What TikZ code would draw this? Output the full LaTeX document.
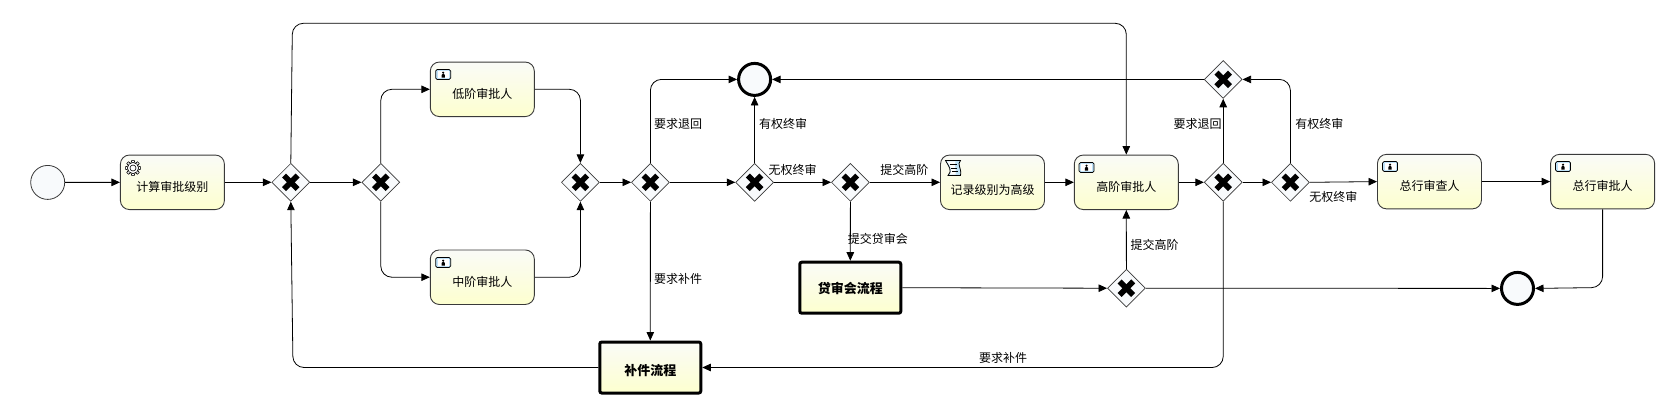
\documentclass[tikz,border=0pt]{standalone}
\usepackage{fontspec}
\setmainfont{Noto Sans CJK SC}
\usetikzlibrary{arrows.meta,shapes.geometric,calc}
\definecolor{tasktop}{HTML}{FAFBF7}
\definecolor{taskbot}{HTML}{FDFFCF}
\definecolor{evfill}{HTML}{F8FAFC}
\definecolor{edgegray}{HTML}{3A3A3A}
\definecolor{iconblue}{HTML}{BFE2F8}
\newcommand{\tasktext}[1]{\raisebox{-9pt}[0pt][0pt]{#1}}
\tikzset{
  task/.style={draw=edgegray,line width=0.9pt,rounded corners=9pt,top color=tasktop,bottom color=taskbot,
    minimum width=104pt,minimum height=54.5pt,inner sep=0pt,font=\fontsize{12}{12}\selectfont},
  subproc/.style={draw=black,line width=3pt,rounded corners=2pt,top color=tasktop,bottom color=taskbot,
    minimum width=101pt,minimum height=51pt,inner sep=0pt,font=\fontsize{13}{13}\selectfont\bfseries},
  gw/.style={diamond,aspect=1,draw=edgegray,line width=0.7pt,fill=evfill,minimum size=38pt,inner sep=0pt,
    path picture={\draw[line width=5.6pt,black] ($(path picture bounding box.center)+(-6.8pt,-6.8pt)$)--($(path picture bounding box.center)+(6.8pt,6.8pt)$);
      \draw[line width=5.6pt,black] ($(path picture bounding box.center)+(-6.8pt,6.8pt)$)--($(path picture bounding box.center)+(6.8pt,-6.8pt)$);}},
  startev/.style={circle,draw=edgegray,line width=0.8pt,fill=evfill,minimum size=34pt,inner sep=0pt},
  endev/.style={circle,draw=black,line width=3pt,fill=evfill,minimum size=32pt,inner sep=0pt},
  flow/.style={draw=black,line width=0.8pt,-{Triangle[length=8.5pt,width=7.5pt]},rounded corners=11pt},
  lab/.style={font=\fontsize{12}{12}\selectfont,inner sep=0pt,text=black},
  usericon/.pic={
    \draw[black,line width=0.7pt,fill=iconblue,rounded corners=1.5pt] (-7.5,-5) rectangle (7.5,5);
    \fill[white] (-5.5,-3.5) rectangle (5.5,3.5);
    \fill[black] (0,-1.8) circle (1.2);
    \fill[black] (-1.7,3.2) -- (-1.7,0.6) -- (-0.8,-0.4) -- (0.8,-0.4) -- (1.7,0.6) -- (1.7,3.2) -- cycle;
  },
  gearicon/.pic={
    \foreach \a in {0,45,...,315}{
      \draw[black,line width=0.6pt,fill=white,rotate=\a] (-1.7,-5.4) -- (-1.2,-7.6) -- (1.2,-7.6) -- (1.7,-5.4);
    }
    \draw[black,line width=0.6pt,fill=white] (0,0) circle (5.6);
    \draw[black,line width=0.6pt,fill=white] (0,0) circle (3);
  },
  scripticon/.pic={
    \draw[black,line width=0.8pt,fill=iconblue] (-7.5,-7.5) -- (7.5,-7.5) .. controls (3.5,-3.5) and (9,0) .. (7.5,7.5) -- (-5,7.5) .. controls (0,3) and (-4.5,-2) .. (-7.5,-7.5) -- cycle;
    \fill[white] (-6,-6.7) -- (2.5,-6.7) .. controls (0.5,-2) and (4,2) .. (2.5,6.7) -- (-3,6.7) .. controls (0,2) and (-3.5,-3) .. (-6,-6.7) -- cycle;
    \draw[black,line width=0.8pt] (-3.5,-3.5) -- (3.5,-3.5) (-2,0) -- (4,0) (-1,3.5) -- (4.5,3.5);
  }
}
\begin{document}
\begin{tikzpicture}[x=1pt,y=-1pt]
\useasboundingbox (0,0) rectangle (1660,400);

% events
\node[startev] (start) at (47.7,182.4) {};
\node[endev] (endA) at (754.6,79.4) {};
\node[endev] (endB) at (1517.5,288.4) {};

% tasks
\node[task] (calc) at (172.4,182.3) {\tasktext{计算审批级别}};
\node[task] (low) at (482.3,89.3) {\tasktext{低阶审批人}};
\node[task] (mid) at (482.3,277.2) {\tasktext{中阶审批人}};
\node[task] (rec) at (992.5,182.3) {\raisebox{-12.5pt}[0pt][0pt]{记录级别为高级}};
\node[task] (high) at (1126.3,182.3) {\tasktext{高阶审批人}};
\node[task] (rev) at (1429.5,181.6) {\tasktext{总行审查人}};
\node[task] (appr) at (1602.6,181.6) {\tasktext{总行审批人}};

% sub-processes
\node[subproc] (dai) at (850.3,287.7) {\raisebox{-6pt}[0pt][0pt]{贷审会流程}};
\node[subproc] (bu) at (650.3,367.5) {\raisebox{-7.5pt}[0pt][0pt]{补件流程}};

% gateways
\node[gw] (g1) at (290.8,182.3) {};
\node[gw] (g2) at (380.8,182.3) {};
\node[gw] (g3) at (580.4,182.3) {};
\node[gw] (g4) at (650.4,182.3) {};
\node[gw] (g5) at (754.6,182.3) {};
\node[gw] (g6) at (850.4,182.3) {};
\node[gw] (g7) at (1223.2,182.3) {};
\node[gw] (g8) at (1290.4,182.3) {};
\node[gw] (g9) at (1223.2,79.4) {};
\node[gw] (g10) at (1126.4,288.2) {};

% icons
\pic at (133,168) {gearicon};
\pic at (443.2,74.5) {usericon};
\pic at (443.2,262.5) {usericon};
\pic at (953,168) {scripticon};
\pic at (1086.5,167.5) {usericon};
\pic at (1390,166.5) {usericon};
\pic at (1563,166.5) {usericon};

% free bend points
\coordinate (topL) at (292.4,23.3);
\coordinate (topR) at (1126.3,23.3);
\coordinate (botL) at (293,367.5);
\coordinate (apprB) at (1602.6,287.5);

% connectors
\draw[flow] (start) -- (calc);
\draw[flow] (calc) -- (g1);
\draw[flow] (g1) -- (g2);
\draw[flow] (g2.north) |- (low.west);
\draw[flow] (g2.south) |- (mid.west);
\draw[flow] (low.east) -| (g3.north);
\draw[flow] (mid.east) -| (g3.south);
\draw[flow] (g3) -- (g4);
\draw[flow] (g4) -- (g5);
\draw[flow] (g4.north) |- (endA.west);
\draw[flow] (g4.south) -- (bu.north);
\draw[flow] (g5.north) -- (endA.south);
\draw[flow] (g5) -- (g6);
\draw[flow] (g6) -- (rec);
\draw[flow] (g6.south) -- (dai.north);
\draw[flow] (rec) -- (high);
\draw[flow] (high) -- (g7);
\draw[flow] (g7) -- (g8);
\draw[flow] (g7.north) -- (g9.south);
\draw[flow] (g8.north) |- (g9.east);
\draw[flow] (g9.west) -- (endA.east);
\draw[flow] (g8.east) -- (rev.west);
\draw[flow] (rev) -- (appr);
\draw[flow] (appr.south) -- (apprB) -- (endB.east);
\draw[flow] (dai.east) -- (g10.west);
\draw[flow] (g10.north) -- (high.south);
\draw[flow] (g10.east) -- (endB.west);
\draw[flow] (g7.south) |- (bu.east);
\draw[flow] (bu.west) -- (botL) -- (g1.south);
\draw[flow] (g1.north) -- (topL) -- (topR) -- (high.north);

% labels
\node[lab] (l1) at (678,123.8) {要求退回};
\node[lab] (l2) at (783,123.8) {有权终审};
\node[lab] (l3) at (792.5,169.5) {无权终审};
\node[lab] (l4) at (904.4,169.5) {提交高阶};
\node[lab] (l5) at (877.9,238.5) {提交贷审会};
\node[lab] (l6) at (678,278.8) {要求补件};
\node[lab] (l7) at (1003.2,357.8) {要求补件};
\node[lab] (l8) at (1197.5,123.8) {要求退回};
\node[lab] (l9) at (1319.3,123.8) {有权终审};
\node[lab] (l10) at (1333.3,197.2) {无权终审};
\node[lab] (l11) at (1154.6,244.8) {提交高阶};
\end{tikzpicture}
\end{document}
